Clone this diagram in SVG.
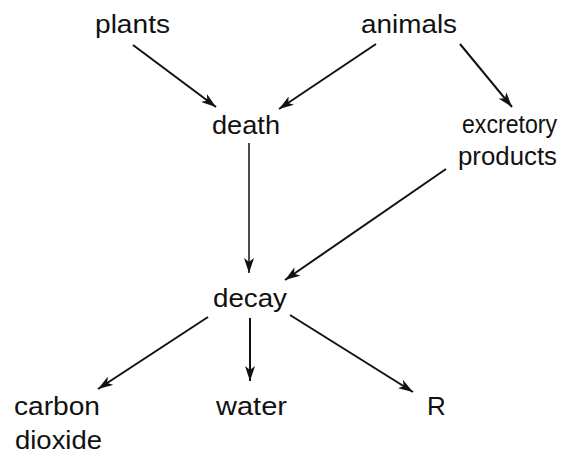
<svg xmlns="http://www.w3.org/2000/svg" width="577" height="458" viewBox="0 0 577 458">
  <style>
    .lbl { font-family: "Liberation Sans", Arial, sans-serif; font-size: 26px; fill: #111; }
    .edge { stroke: #111; stroke-width: 2; fill: none; marker-end: url(#ah); }
  </style>
  <defs>
    <marker id="ah" markerUnits="userSpaceOnUse" markerWidth="16" markerHeight="10" refX="15" refY="5" orient="auto">
      <path d="M0,0 L15,5 L0,10 L4,5 z" fill="#111"/>
    </marker>
  </defs>
  <rect width="577" height="458" fill="#fff"/>
  <g id="connectors">
    <line class="edge" x1="133" y1="45" x2="216" y2="107"/>
    <line class="edge" x1="376" y1="44" x2="279" y2="109"/>
    <line class="edge" x1="460" y1="44" x2="512" y2="107"/>
    <line class="edge" x1="249" y1="143" x2="249" y2="273" style="stroke-width:1.5"/>
    <line class="edge" x1="446" y1="169" x2="285" y2="280"/>
    <line class="edge" x1="208" y1="317" x2="98" y2="389"/>
    <line class="edge" x1="250" y1="318" x2="250" y2="381"/>
    <line class="edge" x1="290" y1="315" x2="413" y2="392"/>
  </g>
  <g id="plants"><text class="lbl" x="95" y="33" textLength="75" lengthAdjust="spacingAndGlyphs">plants</text></g>
  <g id="animals"><text class="lbl" x="361" y="33" textLength="96" lengthAdjust="spacingAndGlyphs">animals</text></g>
  <g id="death"><text class="lbl" x="212" y="134" textLength="68" lengthAdjust="spacingAndGlyphs">death</text></g>
  <g id="excretory-products">
    <text class="lbl" x="462" y="133" textLength="95" lengthAdjust="spacingAndGlyphs">excretory</text>
    <text class="lbl" x="458" y="165" textLength="99" lengthAdjust="spacingAndGlyphs">products</text>
  </g>
  <g id="decay"><text class="lbl" x="213" y="307" textLength="74" lengthAdjust="spacingAndGlyphs">decay</text></g>
  <g id="carbon-dioxide">
    <text class="lbl" x="14" y="415" textLength="86" lengthAdjust="spacingAndGlyphs">carbon</text>
    <text class="lbl" x="15" y="449" textLength="87" lengthAdjust="spacingAndGlyphs">dioxide</text>
  </g>
  <g id="water"><text class="lbl" x="216" y="415" textLength="71" lengthAdjust="spacingAndGlyphs">water</text></g>
  <g id="R"><text class="lbl" x="427" y="415">R</text></g>
</svg>
